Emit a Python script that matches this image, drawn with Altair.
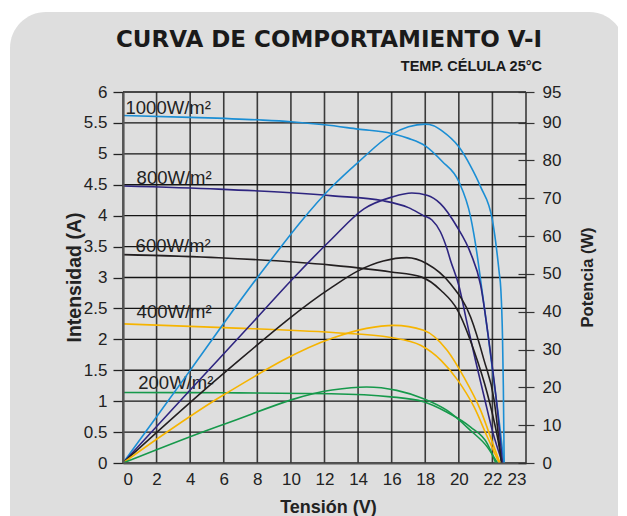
import altair as alt
import pandas as pd

# ---------------- data ----------------
irradiance = ["1000W/m²", "800W/m²", "600W/m²", "400W/m²", "200W/m²"]
colors = ["#1b8ed4", "#2e2580", "#231f20", "#f6b400", "#16994b"]

# I-V curves (Tensión V, Intensidad A)
iv_v_1000 = [0, 4, 8, 10, 12, 14, 16, 17, 18, 19, 20, 20.7, 21.1, 21.3, 21.7, 22.1, 22.5, 22.68]
iv_i_1000 = [5.62, 5.59, 5.55, 5.52, 5.47, 5.40, 5.33, 5.25, 5.13, 4.88, 4.55, 3.98, 3.35, 2.95, 2.15, 1.30, 0.45, 0]
iv_v_800 = [0, 5.7, 10, 12.5, 15.5, 17, 17.9, 18.4, 18.9, 19.3, 19.5, 20, 20.5, 21, 21.5, 22, 22.6]
iv_i_800 = [4.48, 4.43, 4.37, 4.32, 4.24, 4.13, 4.00, 3.93, 3.74, 3.46, 3.28, 2.87, 2.25, 1.65, 1.08, 0.52, 0]
iv_v_600 = [0, 5.7, 12.4, 15.95, 17.75, 18.94, 19.93, 20.9, 21.7, 22.3, 22.58]
iv_i_600 = [3.37, 3.32, 3.20, 3.09, 3.01, 2.79, 2.47, 1.82, 1.12, 0.42, 0]
iv_v_400 = [0, 6, 12.5, 15.95, 17.75, 18.94, 19.93, 20.9, 21.7, 22.4]
iv_i_400 = [2.25, 2.19, 2.11, 2.03, 1.90, 1.66, 1.34, 0.91, 0.42, 0]
iv_v_200 = [0, 6, 12.4, 15.95, 17.9, 19.3, 20.7, 21.7, 22.2]
iv_i_200 = [1.14, 1.135, 1.12, 1.07, 0.99, 0.82, 0.58, 0.31, 0]

# P-V curves (Tensión V, Potencia W)
pv_v_1000 = [0, 4, 8, 12.5, 14, 16, 17, 18, 18.5, 19, 20, 20.7, 21.3, 22, 22.4, 22.5, 22.6, 22.65, 22.7]
pv_p_1000 = [0, 24.5, 49, 73.3, 79.5, 86.9, 88.9, 89.6, 89.2, 87.8, 83.6, 78.5, 73, 64.2, 50.5, 46, 33.5, 20.5, 0]
pv_v_800 = [0, 4, 8, 10, 12.4, 14.35, 16, 17.2, 18.1, 18.9, 19.9, 20.7, 21.3, 21.8, 22.3, 22.6]
pv_p_800 = [0, 19.3, 38.5, 48.2, 59.1, 67.2, 70.3, 71.4, 70.8, 68.6, 62.4, 55.5, 47, 32, 14, 0]
pv_v_600 = [0, 6.1, 12.45, 14, 15.5, 16.9, 18.1, 19.5, 20.7, 21.5, 22.1, 22.53]
pv_p_600 = [0, 24.1, 46.5, 50.8, 53.4, 54.3, 52.7, 47.4, 38.6, 27.2, 16.6, 0]
pv_v_400 = [0, 6.1, 12.45, 14.5, 16.13, 17.9, 19.3, 20.3, 21.3, 22.1, 22.45]
pv_p_400 = [0, 18.3, 33.0, 35.6, 36.4, 35.1, 29.8, 22.7, 13.9, 4.2, 0]
pv_v_200 = [0, 6.1, 12.45, 14.5, 16.3, 17.9, 19.3, 20.7, 21.7, 22.3]
pv_p_200 = [0, 10.4, 19.3, 20.1, 19.2, 17.0, 13.9, 8.6, 4.2, 0]

# curve labels anchored in data units
label_v = [0.15, 0.81, 0.75, 0.81, 0.91]
label_i = [5.65, 4.52, 3.42, 2.35, 1.19]

# axis ticks
x_ticks = [0, 2, 4, 6, 8, 10, 12, 14, 16, 18, 20, 22, 24]
i_ticks = [0, 0.5, 1, 1.5, 2, 2.5, 3, 3.5, 4, 4.5, 5, 5.5, 6]
p_ticks = [0, 10, 20, 30, 40, 50, 60, 70, 80, 90, 98.1]

# ---------------- tables ----------------
iv_sets = [(iv_v_1000, iv_i_1000), (iv_v_800, iv_i_800), (iv_v_600, iv_i_600),
           (iv_v_400, iv_i_400), (iv_v_200, iv_i_200)]
pv_sets = [(pv_v_1000, pv_p_1000), (pv_v_800, pv_p_800), (pv_v_600, pv_p_600),
           (pv_v_400, pv_p_400), (pv_v_200, pv_p_200)]

iv_rows, pv_rows = [], []
for name, (vs, cs) in zip(irradiance, iv_sets):
    for v, c in zip(vs, cs):
        iv_rows.append({"serie": name, "V": v, "I": c})
for name, (vs, ps) in zip(irradiance, pv_sets):
    for v, p in zip(vs, ps):
        pv_rows.append({"serie": name, "V": v, "P": p})
iv_df = pd.DataFrame(iv_rows)
pv_df = pd.DataFrame(pv_rows)
lab_df = pd.DataFrame({"txt": irradiance, "V": label_v, "I": label_i})
xg_df = pd.DataFrame({"V": x_ticks})
yg_df = pd.DataFrame({"I": i_ticks})

FONT = "Liberation Sans"
x_scale = alt.Scale(domain=[0, 24], nice=False, zero=False)
i_scale = alt.Scale(domain=[0, 6], nice=False)
p_scale = alt.Scale(domain=[0, 98.1], nice=False)
col_scale = alt.Scale(domain=irradiance, range=colors)

x_axis = alt.Axis(values=x_ticks, labelExpr="datum.value == 24 ? '23' : datum.label",
                  grid=False, ticks=False, domain=True, domainColor="#555555", domainWidth=2,
                  labelFont=FONT, labelFontSize=17, labelColor="#222222", labelPadding=8,
                  title="Tensión (V)", titleFont=FONT, titleFontSize=18, titleFontWeight="bold",
                  titleColor="#222222", titleBaseline="alphabetic", titleY=49.5, titleX=205, zindex=1)
i_axis = alt.Axis(values=i_ticks, format="~g", grid=False, domain=True, domainColor="#555555",
                  domainWidth=2.2, ticks=True, tickSize=10, tickColor="#222222", tickWidth=1.3,
                  labelFont=FONT, labelFontSize=17, labelColor="#222222", labelPadding=6,
                  title="Intensidad (A)", titleFont=FONT, titleFontSize=19.5, titleFontWeight="bold",
                  titleColor="#222222", titleBaseline="alphabetic", titleAngle=270,
                  titleX=-43, titleY=185, zindex=1)
p_axis = alt.Axis(orient="right", values=p_ticks, labelExpr="datum.value > 95 ? '95' : datum.label",
                  grid=False, domain=False, ticks=True, tickSize=16, tickColor="#333333", tickWidth=1.2,
                  offset=-8, labelFont=FONT, labelFontSize=17, labelColor="#222222", labelPadding=8,
                  title="Potencia (W)", titleFont=FONT, titleFontSize=16.5, titleFontWeight="bold",
                  titleColor="#222222", titleBaseline="alphabetic", titleAngle=270,
                  titleX=74, titleY=185, zindex=1)

X = alt.X("V:Q", scale=x_scale, axis=x_axis)
Y_I = alt.Y("I:Q", scale=i_scale, axis=i_axis)

panel = alt.Chart(pd.DataFrame({"a": [0]})).mark_rect(
    color="#dedede", cornerRadiusTopLeft=36, cornerRadiusTopRight=36
).encode(x=alt.value(-113), x2=alt.value(502), y=alt.value(-80), y2=alt.value(430))

vgrid = alt.Chart(xg_df).mark_rule(color="#3a3a3a", strokeWidth=1.6).encode(x=X)

hgrid = alt.Chart(yg_df).mark_rule(color="#141414", strokeWidth=1.3).encode(y=Y_I)

iv_lines = alt.Chart(iv_df).mark_line(strokeWidth=1.6, interpolate="monotone").encode(
    x=X, y=Y_I,
    color=alt.Color("serie:N", scale=col_scale, legend=None),
    detail="serie:N")

labels = alt.Chart(lab_df).mark_text(align="left", baseline="alphabetic", font=FONT,
                                      fontSize=18.5, color="#222222").encode(
    x=X, y=Y_I, text="txt:N")

pv_lines = alt.Chart(pv_df).mark_line(strokeWidth=1.6, interpolate="monotone").encode(
    x=X,
    y=alt.Y("P:Q", scale=p_scale, axis=p_axis),
    color=alt.Color("serie:N", scale=col_scale, legend=None),
    detail="serie:N")

left = alt.layer(hgrid, iv_lines, labels)

chart = alt.layer(panel, vgrid, left, pv_lines).resolve_scale(y="independent").properties(
    width=403, height=371,
    padding={"left": 115, "top": 84, "right": 92, "bottom": 53},
    autosize=alt.AutoSizeParams(type="none"),
    background="white",
    title=alt.TitleParams(text="CURVA DE COMPORTAMIENTO V-I", subtitle="TEMP. CÉLULA  25°C",
                          anchor="end", frame="group", dx=16, offset=-61, font="DejaVu Sans",
                          fontSize=23, fontWeight="bold", color="#1a1a1a", subtitleFont=FONT,
                          subtitleFontSize=14.5, subtitleFontWeight="bold", subtitleColor="#1a1a1a",
                          subtitlePadding=8)
).configure_view(stroke=None)

chart.save("out.html", embed_options={"renderer": "svg", "actions": False})
